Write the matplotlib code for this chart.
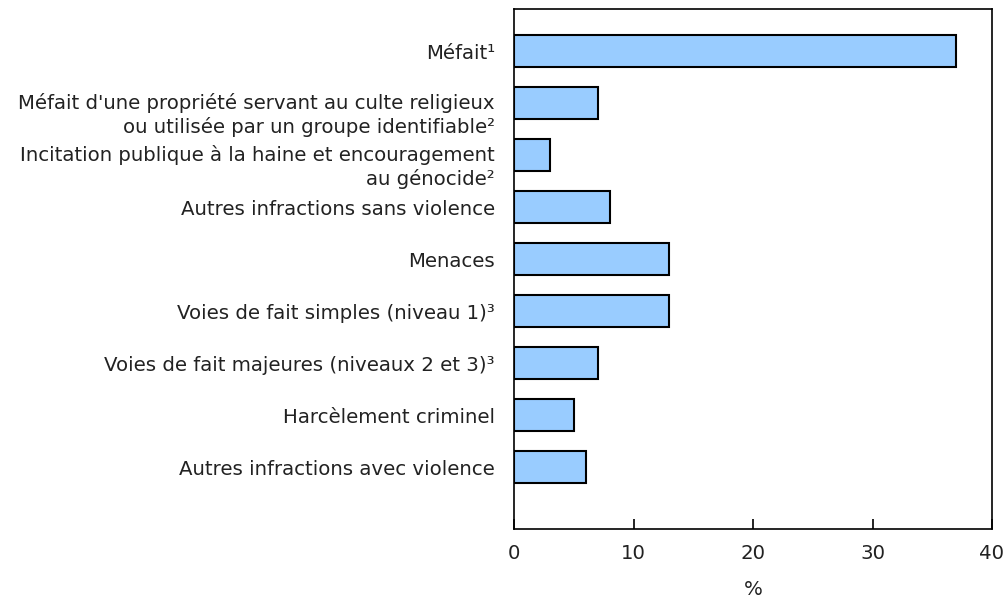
import matplotlib
matplotlib.use('Agg')
import matplotlib.pyplot as plt
import matplotlib.transforms as mtransforms
import numpy as np

categories = [
    "Méfait¹",
    "Méfait d'une propriété servant au culte religieux\nou utilisée par un groupe identifiable²",
    "Incitation publique à la haine et encouragement\nau génocide²",
    "Autres infractions sans violence",
    "Menaces",
    "Voies de fait simples (niveau 1)³",
    "Voies de fait majeures (niveaux 2 et 3)³",
    "Harcèlement criminel",
    "Autres infractions avec violence",
]
values = [37, 7, 3, 8, 13, 13, 7, 5, 6]
xticks = [0, 10, 20, 30, 40]

plt.rcParams['font.family'] = ['DejaVu Sans']
fs = 14.2

fig = plt.figure(figsize=(10.08, 6.02), dpi=100)
ax = fig.add_axes([514 / 1008, 73 / 602, 478 / 1008, 520 / 602])

y = np.arange(len(categories))
ax.barh(y, values, height=0.615, color='#99ccff', edgecolor='black', linewidth=1.5)

ax.set_xlim(0, 40)
ax.set_ylim(len(categories) - 1 + 1.19, -0.81)
ax.set_xticks(xticks)
ax.set_xticklabels([str(t) for t in xticks], fontsize=fs, color='#222222')
ax.set_yticks([])

# category labels; for two-line labels the first line sits on the bar centre
blend = mtransforms.blended_transform_factory(ax.transAxes, ax.transData)
single = mtransforms.offset_copy(blend, fig=fig, x=-19, y=-2, units='dots')
double = mtransforms.offset_copy(blend, fig=fig, x=-19, y=-30, units='dots')
for yi, lab in zip(y, categories):
    if '\n' in lab:
        ax.text(0, yi, lab, transform=double, ha='right', va='baseline',
                fontsize=fs, linespacing=1.25, color='#222222', multialignment='right')
    else:
        ax.text(0, yi, lab, transform=single, ha='right', va='center',
                fontsize=fs, color='#222222')

ax.tick_params(axis='x', direction='in', length=7, width=1.2, pad=11, colors='black')
for lbl in ax.get_xticklabels():
    lbl.set_color('#222222')
for s in ax.spines.values():
    s.set_linewidth(1.2)
ax.set_xlabel('%', fontsize=fs, labelpad=12, color='#222222')

fig.savefig('out.png', dpi=100)
